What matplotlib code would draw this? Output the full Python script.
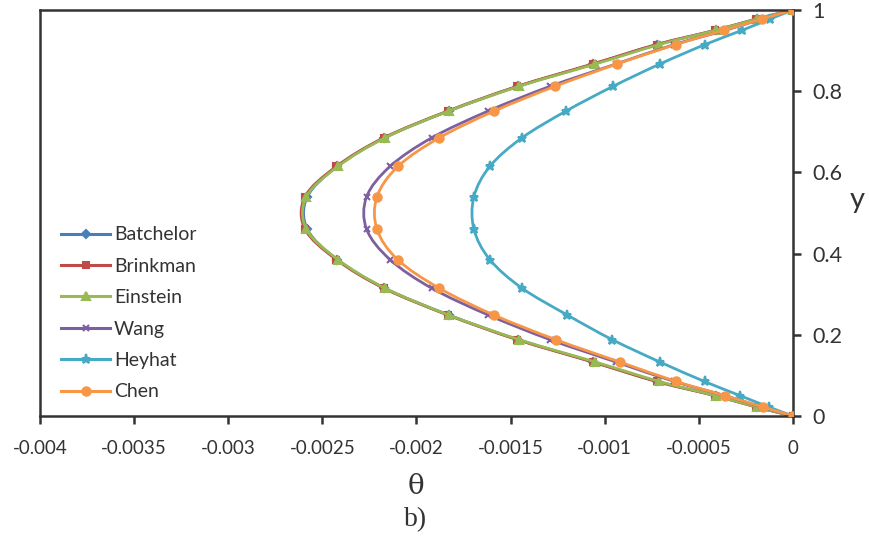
import matplotlib
matplotlib.use("Agg")
import matplotlib.pyplot as plt
from matplotlib.path import Path
from matplotlib.patches import PathPatch
from matplotlib.lines import Line2D

# y grid (same for every series)
y_pts = [0, 0.022, 0.05, 0.085, 0.133, 0.188, 0.249, 0.315, 0.385, 0.46,
         0.54, 0.615, 0.685, 0.751, 0.812, 0.867, 0.915, 0.95, 0.978, 1]

# theta values (lower half then upper half)
batchelor = [0, -0.00019, -0.00041, -0.00072, -0.00106, -0.00146, -0.00183, -0.00217, -0.00242, -0.00258,
             -0.00258, -0.00242, -0.00217, -0.00183, -0.00146, -0.00106, -0.00072, -0.00041, -0.00019, 0]
brinkman = [0, -0.000195, -0.000415, -0.000725, -0.001065, -0.001465, -0.001835, -0.002175, -0.002425, -0.002592,
            -0.002592, -0.002425, -0.002175, -0.001835, -0.001465, -0.001065, -0.000725, -0.000415, -0.000195, 0]
einstein = [0, -0.00019, -0.00041, -0.00071, -0.00105, -0.001455, -0.00183, -0.002168, -0.002417, -0.002585,
            -0.002585, -0.002417, -0.002168, -0.00183, -0.001455, -0.00105, -0.00071, -0.00041, -0.00019, 0]
wang = [0, -0.000165, -0.00036, -0.00063, -0.00094, -0.00129, -0.00162, -0.00192, -0.00214, -0.002265,
        -0.002265, -0.00214, -0.00192, -0.00162, -0.00129, -0.00094, -0.00063, -0.00036, -0.000165, 0]
heyhat = [0, -0.000128, -0.00028, -0.00047, -0.000707, -0.00096, -0.0012, -0.00144, -0.00161, -0.001695,
          -0.001695, -0.00161, -0.00144, -0.001206, -0.000956, -0.000707, -0.000467, -0.000271, -0.000122, 0]
chen = [0, -0.00016, -0.00036, -0.00062, -0.00092, -0.00126, -0.00159, -0.00188, -0.0021, -0.00221,
        -0.00221, -0.002098, -0.00188, -0.001588, -0.001264, -0.000935, -0.000622, -0.000367, -0.000165, 0]

names = ["Batchelor", "Brinkman", "Einstein", "Wang", "Heyhat", "Chen"]
series = [batchelor, brinkman, einstein, wang, heyhat, chen]
colors = ["#4A7EBB", "#BE4B48", "#98B954", "#7D60A0", "#46AAC5", "#F79646"]
markers = ["D", "s", "^", "x", "*", "o"]
msizes = [4.5, 5, 6, 5, 6.5, 6]

xticks = [-0.004, -0.0035, -0.003, -0.0025, -0.002, -0.0015, -0.001, -0.0005, 0]
xlabels = ["-0.004", "-0.0035", "-0.003", "-0.0025", "-0.002", "-0.0015", "-0.001", "-0.0005", "0"]
yticks = [0, 0.2, 0.4, 0.6, 0.8, 1]
ylabels = ["0", "0.2", "0.4", "0.6", "0.8", "1"]


def smooth_path(xs, ys):
    # Catmull-Rom style smoothing, like Excel's "smoothed line"
    pts = list(zip(xs, ys))
    n = len(pts)
    verts = [pts[0]]
    codes = [Path.MOVETO]
    for i in range(n - 1):
        p0 = pts[max(i - 1, 0)]
        p1 = pts[i]
        p2 = pts[i + 1]
        p3 = pts[min(i + 2, n - 1)]
        c1 = (p1[0] + (p2[0] - p0[0]) / 6, p1[1] + (p2[1] - p0[1]) / 6)
        c2 = (p2[0] - (p3[0] - p1[0]) / 6, p2[1] - (p3[1] - p1[1]) / 6)
        verts += [c1, c2, p2]
        codes += [Path.CURVE4] * 3
    return Path(verts, codes)


plt.rcParams["font.family"] = ["Lato", "DejaVu Sans"]

fig = plt.figure(figsize=(8.7, 5.45), dpi=100)
ax = fig.add_axes([40/870, 1 - 416/545, 753/870, 406/545])

handles = []
for i, (name, vals, c, m, ms) in enumerate(zip(names, series, colors, markers, msizes)):
    z = 2 + i * 0.1
    ax.add_patch(PathPatch(smooth_path(vals, y_pts), fill=False, edgecolor=c,
                           lw=2.0, zorder=z, capstyle="round"))
    ax.plot(vals, y_pts, ls="none", color=c, marker=m, markersize=ms,
            mew=1.5, zorder=z + 0.05)
    handles.append(Line2D([], [], color=c, marker=m, markersize=ms, lw=2.2,
                          mew=1.5, label=name))

ax.set_xlim(-0.004, 0)
ax.set_ylim(0, 1)
ax.set_xticks(xticks)
ax.set_xticklabels(xlabels, fontsize=13.5, color="#333333")
ax.set_yticks(yticks)
ax.set_yticklabels(ylabels, fontsize=15.5, color="#333333")
ax.yaxis.tick_right()
ax.tick_params(axis="both", direction="out", length=6, width=1.8, color="#333333")
ax.tick_params(axis="x", pad=11)
ax.tick_params(axis="y", pad=8)
for side in ["top", "bottom", "left", "right"]:
    ax.spines[side].set_color("#333333")
    ax.spines[side].set_linewidth(1.8)

fig.text(857/870, 1 - 200/545, "y", fontsize=21, color="#333333",
         ha="center", va="center")
fig.text(416/870, 1 - 487/545, "θ", fontsize=20, family="DejaVu Serif",
         color="#333333", ha="center", va="center")
fig.text(416/870, 1 - 520/545, "b)", fontsize=20, family="Liberation Serif",
         color="#333333", ha="center", va="center")

ax.legend(handles=handles, loc="upper left", bbox_to_anchor=(0.005, 0.51),
          frameon=False, fontsize=14, handlelength=2.5, handletextpad=0.2,
          labelspacing=0.74, labelcolor="#333333")

fig.savefig("out.png", dpi=100)
